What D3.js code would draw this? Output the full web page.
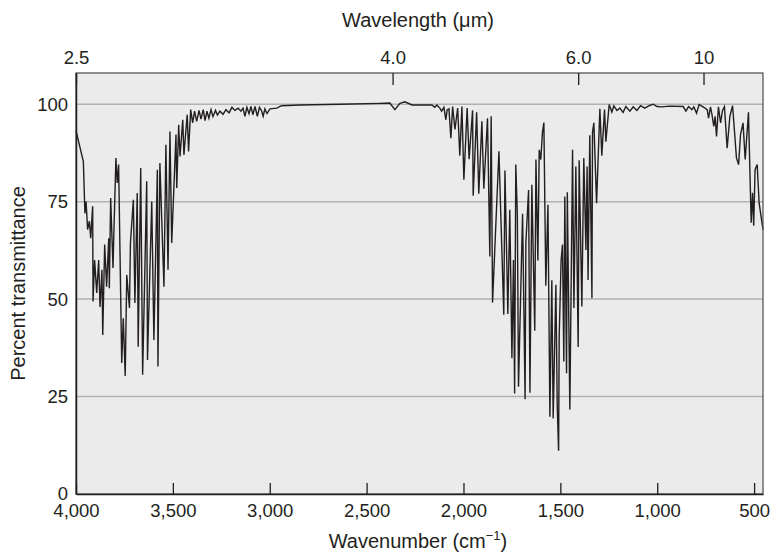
<!DOCTYPE html>
<html>
<head>
<meta charset="utf-8">
<title>IR spectrum</title>
<style>
	body { margin: 0; background: #fff; }
	text { font-family: "Liberation Sans", Arial, sans-serif; fill: #231f20; }
</style>
</head>
<body>
<div id="chart"></div>
<script src="https://cdn.jsdelivr.net/npm/d3@7"></script>
<script>

// spectrum: wavenumber (cm-1) and percent transmittance
var wavenumber = [
	4000, 3962, 3954, 3948, 3940, 3931, 3924, 3914, 3912, 3904, 3893, 3883, 3876, 3866, 3862, 3852,
	3842, 3831, 3828, 3821, 3809, 3805, 3794, 3787, 3780, 3764, 3756, 3746, 3738, 3724, 3719, 3704,
	3696, 3684, 3679, 3666, 3656, 3635, 3631, 3609, 3598, 3580, 3577, 3567, 3546, 3536, 3525, 3515,
	3506, 3484, 3480, 3470, 3463, 3449, 3443, 3426, 3419, 3408, 3398, 3388, 3377, 3365, 3355, 3343,
	3334, 3324, 3314, 3303, 3293, 3280, 3270, 3257, 3241, 3226, 3210, 3195, 3180, 3163, 3149, 3138,
	3128, 3118, 3107, 3097, 3087, 3076, 3064, 3053, 3043, 3034, 3025, 3014, 2999, 2964, 2939, 2844,
	2638, 2431, 2380, 2354, 2328, 2302, 2266, 2163, 2148, 2137, 2122, 2113, 2101, 2091, 2084, 2075,
	2065, 2056, 2044, 2030, 2019, 2008, 1998, 1981, 1971, 1953, 1950, 1932, 1921, 1905, 1895, 1876,
	1864, 1857, 1850, 1817, 1792, 1786, 1771, 1761, 1750, 1742, 1736, 1730, 1722, 1716, 1695, 1682,
	1678, 1664, 1657, 1647, 1632, 1626, 1616, 1609, 1601, 1592, 1585, 1575, 1564, 1554, 1544, 1537,
	1523, 1516, 1509, 1506, 1496, 1489, 1482, 1477, 1468, 1464, 1451, 1437, 1430, 1420, 1408, 1403,
	1389, 1379, 1368, 1362, 1357, 1348, 1337, 1334, 1327, 1313, 1296, 1286, 1272, 1265, 1248, 1234,
	1224, 1208, 1193, 1176, 1162, 1141, 1124, 1105, 1086, 1064, 1042, 1021, 1001, 978, 935, 866,
	852, 838, 821, 811, 797, 784, 763, 742, 735, 725, 718, 708, 701, 694, 684, 673,
	663, 653, 639, 625, 611, 591, 580, 570, 557, 546, 529, 515, 508, 502, 495, 484,
	474, 454
];

var transmittance = [
	93.2, 85.3, 72, 75, 67.8, 70, 65.6, 73.8, 49.4, 60, 51.6, 60, 48, 57.5, 40.8, 64,
	53.2, 65.6, 52.8, 75.9, 58, 66, 86.2, 79.8, 84.5, 33.6, 45.1, 30.3, 56.2, 47.7, 64.4, 75.5,
	49, 77.2, 37.8, 83.6, 30.6, 80.2, 34.4, 75, 39.5, 83.2, 32.7, 84.9, 53.2, 89.6, 57.5, 93,
	64.4, 92.2, 78.5, 94.7, 86.6, 96, 87, 97.3, 87.9, 98.6, 95.2, 98.2, 95.6, 98.4, 96.2, 98.6,
	95.8, 98.2, 96.4, 98.6, 96.8, 98.4, 97.2, 98.2, 97.4, 98.6, 97.8, 99.2, 98.4, 99, 98.2, 99,
	96.9, 99.2, 97.6, 99.4, 97.3, 99.4, 96.9, 99.2, 98.4, 96.9, 98.8, 97.6, 98.8, 99, 99.6, 99.8,
	100, 100.2, 100.3, 98.6, 100.2, 100.6, 99.8, 99.8, 99.2, 99.8, 99, 98.2, 99.2, 96, 98.6, 98.8,
	91.3, 99.4, 93.5, 99, 86.8, 99.4, 80.6, 99, 85.9, 98.4, 76.5, 97.9, 77, 95.6, 78.3, 96.4,
	60.9, 96.9, 49.1, 87.9, 46, 83, 46.2, 72.9, 34.8, 60, 25.8, 84.5, 71.6, 27.5, 71.9, 24.3,
	64.4, 78, 26, 79.3, 41.9, 85.8, 59.9, 88.3, 85.8, 93, 95.3, 53.4, 74.2, 19.8, 54.8, 19.4,
	53.7, 22.4, 11.1, 40.4, 60, 64, 34, 76.3, 31, 77.4, 21.7, 88.3, 47.7, 84, 37.7, 85.6,
	48.1, 86.2, 62.6, 84, 54.9, 92, 50.2, 92.8, 95.2, 74.6, 98.8, 86.8, 98.6, 90.4, 99.9, 98,
	99.6, 98.4, 99, 97.9, 99.4, 98.2, 99.3, 98.4, 99.6, 99, 99.6, 100, 99.4, 99.3, 99.5, 99.4,
	98.2, 99.4, 98.6, 99.3, 97.7, 99.9, 99.3, 98.6, 96.4, 99.3, 97.5, 94.3, 96.9, 91.7, 99.3, 95.2,
	98.4, 99.4, 88.7, 96.9, 99.6, 86.2, 84.5, 92.2, 95.2, 85.8, 97.9, 69.6, 77.3, 68.8, 83.2, 84.5,
	74.6, 67.8
];

var bottomTicks = [4000, 3500, 3000, 2500, 2000, 1500, 1000, 500];
var yTicks = [0, 25, 50, 75, 100];
var gridValues = [25, 50, 75, 100];
// wavelength labels and where they sit on the wavenumber axis
var topTickLabels = ['2.5', '4.0', '6.0', '10'];
var topTickPositions = [4000, 2366, 1408, 761];

var width = 774;
var height = 556;
var margin = {top: 73, right: 11, bottom: 62, left: 76};
var tickFont = 18.5;
var titleFont = 20;

var svg = d3.select('#chart')
	.append('svg')
	.attr('width', width)
	.attr('height', height);

var x = d3.scaleLinear()
	.domain([4000, 454])
	.range([margin.left, width - margin.right]);

var y = d3.scaleLinear()
	.domain([0, 108])
	.range([height - margin.bottom, margin.top]);

// plot background
svg.append('rect')
	.attr('x', x(4000))
	.attr('y', y(108))
	.attr('width', x(454) - x(4000))
	.attr('height', y(0) - y(108))
	.attr('fill', '#ebebec');

// gridlines
svg.selectAll('.grid')
	.data(gridValues)
	.enter()
	.append('line')
	.attr('class', 'grid')
	.attr('x1', x(4000))
	.attr('x2', x(454))
	.attr('y1', function(d){ return y(d); })
	.attr('y2', function(d){ return y(d); })
	.attr('stroke', '#b2b2b2')
	.attr('stroke-width', 1.5);

// spectrum
var points = wavenumber.map(function(d, i){ return [d, transmittance[i]]; });

var line = d3.line()
	.x(function(d){ return x(d[0]); })
	.y(function(d){ return y(d[1]); });

svg.append('path')
	.datum(points)
	.attr('d', line)
	.attr('fill', 'none')
	.attr('stroke', '#231f20')
	.attr('stroke-width', 1.4)
	.attr('stroke-linejoin', 'miter');

// frame top and right
svg.append('rect')
	.attr('x', x(4000))
	.attr('y', y(108))
	.attr('width', x(454) - x(4000))
	.attr('height', y(0) - y(108))
	.attr('fill', 'none')
	.attr('stroke', '#4a4a4a')
	.attr('stroke-width', 1.2);

// bottom axis
var xAxis = d3.axisBottom(x)
	.tickValues(bottomTicks)
	.tickFormat(d3.format(','))
	.tickSizeInner(-11)
	.tickSizeOuter(0)
	.tickPadding(10);

var gx = svg.append('g')
	.attr('transform', 'translate(0,' + y(0) + ')')
	.call(xAxis);
gx.select('.domain').attr('stroke', '#231f20').attr('stroke-width', 1.5);
gx.selectAll('.tick line').attr('stroke', '#231f20').attr('stroke-width', 1.3);
gx.selectAll('text').attr('font-size', tickFont).style('font-family', '"Liberation Sans", Arial, sans-serif');

// top axis (wavelength)
var xTop = d3.axisTop(x)
	.tickValues(topTickPositions)
	.tickFormat(function(d, i){ return topTickLabels[i]; })
	.tickSizeInner(-12)
	.tickSizeOuter(0)
	.tickPadding(9);

var gt = svg.append('g')
	.attr('transform', 'translate(0,' + y(108) + ')')
	.call(xTop);
gt.select('.domain').remove();
gt.selectAll('.tick line').attr('stroke', '#231f20').attr('stroke-width', 1.3);
gt.selectAll('text').attr('font-size', tickFont).style('font-family', '"Liberation Sans", Arial, sans-serif');

// left axis
var yAxis = d3.axisLeft(y)
	.tickValues(yTicks)
	.tickSize(0)
	.tickPadding(8);

var gy = svg.append('g')
	.attr('transform', 'translate(' + x(4000) + ',0)')
	.call(yAxis);
gy.select('.domain').attr('stroke', '#231f20').attr('stroke-width', 1.5);
gy.selectAll('text').attr('font-size', tickFont).style('font-family', '"Liberation Sans", Arial, sans-serif');

// titles
svg.append('text')
	.attr('x', 418)
	.attr('y', 27)
	.attr('text-anchor', 'middle')
	.attr('font-size', titleFont)
	.text('Wavelength (μm)');

var xt = svg.append('text')
	.attr('x', 418)
	.attr('y', 548)
	.attr('text-anchor', 'middle')
	.attr('font-size', titleFont);
xt.append('tspan').text('Wavenumber (cm');
xt.append('tspan').attr('dy', -8).attr('font-size', 13).text('−1');
xt.append('tspan').attr('dy', 8).text(')');

svg.append('text')
	.attr('transform', 'translate(25,' + ((y(0) + y(108)) / 2) + ') rotate(-90)')
	.attr('text-anchor', 'middle')
	.attr('font-size', titleFont)
	.text('Percent transmittance');

</script>
</body>
</html>
